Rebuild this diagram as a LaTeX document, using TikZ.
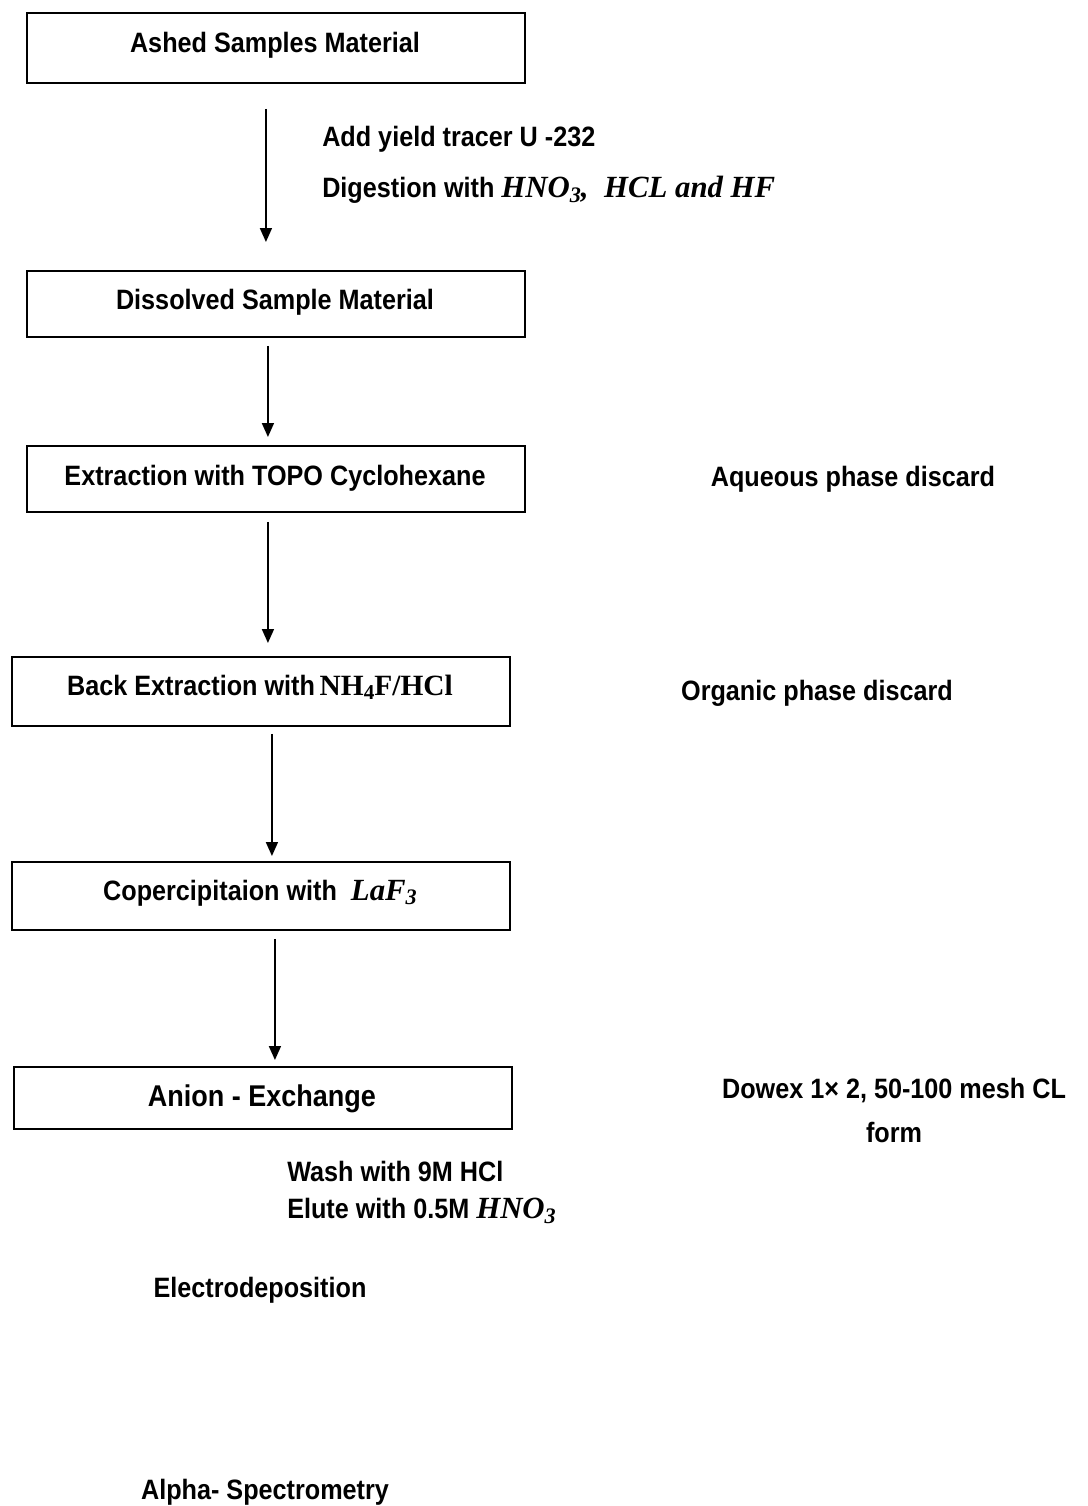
\documentclass[tikz,border=0pt]{standalone}
\usepackage{fontspec}
\setmainfont{Liberation Sans}[FakeStretch=0.90]
\newfontfamily\mfont{Liberation Serif}[Scale=1.1,BoldItalicFont={* Bold Italic}]
\newfontfamily\sfont{Liberation Serif}[Scale=1.05]
\usetikzlibrary{arrows.meta}
\newcommand\mth[1]{{\mfont\bfseries\itshape #1}}
\newcommand\msb[1]{\raisebox{-0.3ex}{\scalebox{0.72}{#1}}}
\begin{document}
\begin{tikzpicture}[x=0.75pt,y=-0.75pt,
  box/.style={draw,line width=1.4pt,inner sep=0pt,anchor=north west},
  lbl/.style={font=\fontsize{21}{25}\selectfont\bfseries,inner sep=0pt,yshift=-2.25pt},
  arr/.style={line width=1.3pt,-{Triangle[width=9pt,length=10.5pt]}}]
\useasboundingbox (0,0) rectangle (1088,1506);
% boxes
\node[box,minimum width=498*0.75pt,minimum height=70*0.75pt] (b1) at (26,12) {};
\node[box,minimum width=498*0.75pt,minimum height=66*0.75pt] (b2) at (26,270) {};
\node[box,minimum width=498*0.75pt,minimum height=66*0.75pt] (b3) at (26,445) {};
\node[box,minimum width=498*0.75pt,minimum height=69*0.75pt] (b4) at (11,656) {};
\node[box,minimum width=498*0.75pt,minimum height=68*0.75pt] (b5) at (11,861) {};
\node[box,minimum width=498*0.75pt,minimum height=62*0.75pt] (b6) at (13,1066) {};
% box labels
\node[lbl] (t1) at (275,42) {Ashed Samples Material};
\node[lbl] (t2) at (275,299) {Dissolved Sample Material};
\node[lbl] (t3) at (275,475) {Extraction with TOPO Cyclohexane};
\node[lbl] (t4) at (260,684) {Back Extraction with\,{\sfont\bfseries NH\msb{4}F/HCl}};
\node[lbl] (t5) at (260,890) {Copercipitaion with \ \mth{LaF}\msb{\mth{3}}};
\node[lbl,font=\fontsize{22.5}{27}\selectfont\bfseries] (t6) at (262,1096) {Anion - Exchange};
% arrows
\draw[arr] ([yshift=-25*0.75pt,xshift=-10*0.75pt]b1.south) -- ([yshift=28*0.75pt,xshift=-10*0.75pt]b2.north);
\draw[arr] ([yshift=-8*0.75pt,xshift=-8*0.75pt]b2.south) -- ([yshift=8*0.75pt,xshift=-8*0.75pt]b3.north);
\draw[arr] ([yshift=-9*0.75pt,xshift=-8*0.75pt]b3.south) -- ([yshift=13*0.75pt,xshift=7*0.75pt]b4.north);
\draw[arr] ([yshift=-7*0.75pt,xshift=11*0.75pt]b4.south) -- ([yshift=5*0.75pt,xshift=11*0.75pt]b5.north);
\draw[arr] ([yshift=-8*0.75pt,xshift=14*0.75pt]b5.south) -- ([yshift=6*0.75pt,xshift=12*0.75pt]b6.north);
% side texts
\node[lbl,anchor=west] (s1) at (322,136) {Add yield tracer U -232};
\node[lbl,anchor=west] (s2) at (322,187) {Digestion with \mth{HNO}\msb{\mth{3}}\mth{,\ \ HCL and HF}};
\node[lbl] (s3) at (853,476) {Aqueous phase discard};
\node[lbl] (s4) at (817,690) {Organic phase discard};
\node[lbl] (s5) at (894,1088) {Dowex 1× 2, 50-100 mesh CL};
\node[lbl] (s6) at (894,1129) {form};
\node[lbl,anchor=west] (s7) at (287,1168) {Wash with 9M HCl};
\node[lbl,anchor=west] (s8) at (287,1208) {Elute with 0.5M \mth{HNO}\msb{\mth{3}}};
\node[lbl] (s9) at (260,1287) {Electrodeposition};
\node[lbl] (s10) at (265,1489) {Alpha- Spectrometry};
\end{tikzpicture}
\end{document}
